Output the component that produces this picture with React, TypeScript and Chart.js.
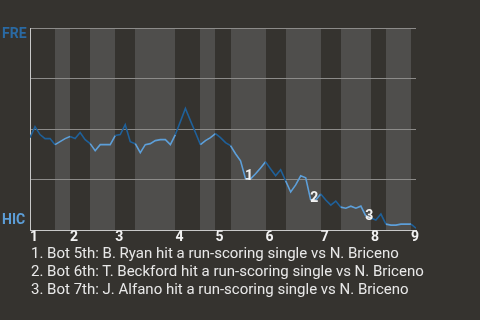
import React, { useEffect, useRef } from 'react';
import { Chart, registerables } from 'chart.js';

Chart.register(...registerables);

const teamTop = 'FRE';
const teamBottom = 'HIC';
const inningLabels = ['1', '2', '3', '4', '5', '6', '7', '8', '9'];
const inningStartPlays = [0, 8, 17, 29, 37, 47, 58, 68, 76];
const halfInningStarts = [0, 5, 8, 12, 17, 21, 29, 34, 37, 40, 47, 51, 58, 62, 68, 71, 76];
const totalPlays = 77;
// FRE win probability (%) after each play
const winProb = [
  45.8, 51.2, 47.3, 45.3, 45.3, 42.3, 43.8, 45.3, 46.3, 45.3,
  48.3, 44.8, 42.8, 39.3, 42.3, 42.3, 42.3, 46.8, 47.3, 52.2,
  43.8, 42.8, 38.3, 42.3, 42.8, 44.3, 44.8, 44.8, 42.3, 47.3,
  53.7, 60.2, 54.2, 48.3, 42.3, 44.3, 45.8, 47.8, 45.8, 43.3,
  41.8, 37.8, 34.3, 25.4, 25.4, 27.9, 30.8, 33.8, 30.3, 26.9,
  29.9, 24.4, 18.9, 22.4, 26.9, 25.9, 14.9, 14.9, 17.9, 14.9,
  12.4, 14.4, 11.4, 10.9, 11.9, 10.9, 11.9, 7.0, 6.0, 5.0,
  8.0, 3.0, 2.5, 2.5, 3.0, 3.0, 3.0, 1.0,
];
const scoringPlays = [44, 57, 68];
const scoringLabels = ['1', '2', '3'];
const notes = [
  '1. Bot 5th: B. Ryan hit a run-scoring single vs N. Briceno',
  '2. Bot 6th: T. Beckford hit a run-scoring single vs N. Briceno',
  '3. Bot 7th: J. Alfano hit a run-scoring single vs N. Briceno',
];

const BG = '#35332f';
const BAND = '#4f4e4c';
const DARK_BLUE = '#1f6099';
const LIGHT_BLUE = '#5d9fd9';

function halfIndex(play: number) {
  let k = 0;
  for (let i = 0; i < halfInningStarts.length; i++) if (halfInningStarts[i] <= play) k = i;
  return k;
}

export default function App() {
  const ref = useRef<HTMLCanvasElement | null>(null);

  useEffect(() => {
    document.body.style.margin = '0';
    document.body.style.background = BG;
    const canvas = ref.current;
    if (!canvas) return;

    const bandsPlugin = {
      id: 'bands',
      beforeDraw(chart: any) {
        const { ctx, chartArea, scales } = chart;
        const x = scales.x;
        ctx.save();
        ctx.fillStyle = BAND;
        for (let i = 1; i < halfInningStarts.length; i += 2) {
          const s = halfInningStarts[i];
          const e = i + 1 < halfInningStarts.length ? halfInningStarts[i + 1] : totalPlays;
          const x0 = Math.round(x.getPixelForValue(s));
          const x1 = Math.round(x.getPixelForValue(e));
          ctx.fillRect(x0, chartArea.top, x1 - x0, chartArea.bottom - chartArea.top);
        }
        ctx.restore();
      },
    };

    const labelsPlugin = {
      id: 'labels',
      afterDatasetsDraw(chart: any) {
        const { ctx, chartArea, scales } = chart;
        ctx.save();
        ctx.font = 'bold 14px Roboto';
        ctx.textBaseline = 'middle';
        ctx.textAlign = 'left';
        ctx.fillStyle = '#2a6aa3';
        ctx.fillText(teamTop, 2, chartArea.top + 6);
        ctx.fillStyle = LIGHT_BLUE;
        ctx.fillText(teamBottom, 2, chartArea.bottom - 10);
        ctx.font = 'bold 14px Roboto';
        ctx.fillStyle = '#f2f2f2';
        ctx.textAlign = 'center';
        scoringPlays.forEach((p, i) => {
          const px = scales.x.getPixelForValue(p);
          const py = scales.y.getPixelForValue(winProb[p]);
          ctx.fillText(scoringLabels[i], px - 1.5, py - 2);
        });
        ctx.restore();
      },
    };

    const chart = new Chart(canvas, {
      type: 'line',
      data: {
        datasets: [
          {
            data: winProb.map((v, i) => ({ x: i, y: v })),
            borderWidth: 1.6,
            pointRadius: 0,
            tension: 0,
            borderColor: DARK_BLUE,
            segment: {
              borderColor: (c: any) => {
                if (scoringPlays.includes(c.p1DataIndex)) return '#dbe8f5';
                return halfIndex(c.p0DataIndex) % 2 === 0 ? DARK_BLUE : LIGHT_BLUE;
              },
            },
          },
        ],
      },
      options: {
        animation: false,
        responsive: false,
        maintainAspectRatio: false,
        layout: { padding: { left: 30, top: 28, right: 64, bottom: 75 } },
        plugins: { legend: { display: false }, tooltip: { enabled: false } },
        scales: {
          x: {
            type: 'linear',
            min: 0,
            max: totalPlays,
            afterBuildTicks: (s: any) => {
              s.ticks = inningStartPlays.map((v) => ({ value: v }));
            },
            grid: { display: false, drawTicks: false },
            border: { display: true, color: '#c9c9c9', width: 1 },
            ticks: {
              autoSkip: false,
              maxRotation: 0,
              align: 'start',
              padding: -1,
              color: '#f2f2f2',
              font: { family: 'Roboto', weight: 'bold', size: 14 },
              callback: (v: any) => {
                const i = inningStartPlays.indexOf(Number(v));
                return i >= 0 ? inningLabels[i] : '';
              },
            },
          },
          y: {
            type: 'linear',
            min: 0,
            max: 100,
            afterBuildTicks: (s: any) => {
              s.ticks = [0, 25, 50, 75, 100].map((v) => ({ value: v }));
            },
            grid: { color: '#8c8b89', drawTicks: false, lineWidth: 1 },
            border: { display: true, color: '#c9c9c9', width: 1 },
            ticks: { display: false },
          },
        },
      },
      plugins: [bandsPlugin, labelsPlugin],
    } as any);

    return () => chart.destroy();
  }, []);

  return (
    <div style={{ position: 'relative', width: 480, height: 320, background: BG, overflow: 'hidden' }}>
      <canvas ref={ref} width={480} height={320} style={{ position: 'absolute', left: 0, top: 0, width: 480, height: 320 }} />
      <div
        style={{
          position: 'absolute',
          left: 31,
          top: 244,
          fontFamily: 'Roboto',
          fontSize: 15,
          lineHeight: '18px',
          color: '#e8e8e8',
          whiteSpace: 'nowrap',
        }}
      >
        {notes.map((n, i) => (
          <div key={i}>{n}</div>
        ))}
      </div>
    </div>
  );
}
